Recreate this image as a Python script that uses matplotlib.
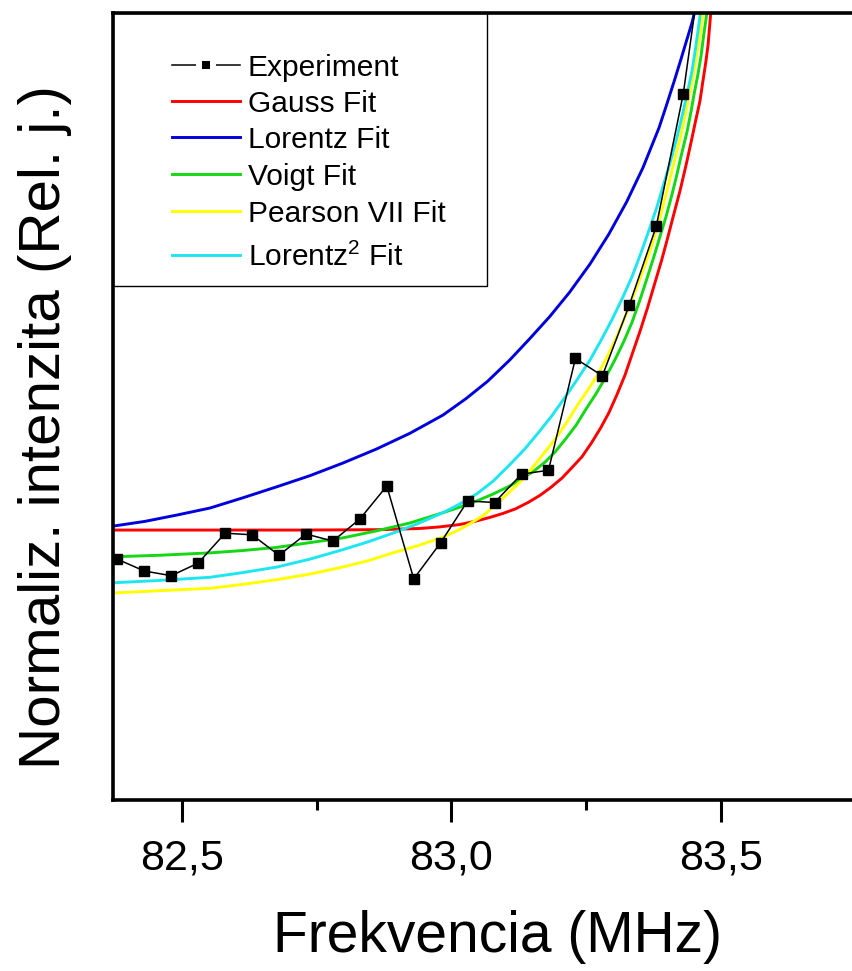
import matplotlib
matplotlib.use("Agg")
import matplotlib.pyplot as plt
from matplotlib.lines import Line2D
from matplotlib.patches import Rectangle
from matplotlib.ticker import FixedLocator, FuncFormatter

plt.rcParams['font.family'] = ['Liberation Sans', 'DejaVu Sans']
plt.rcParams['mathtext.fontset'] = 'custom'
plt.rcParams['mathtext.rm'] = 'Liberation Sans'
plt.rcParams['mathtext.it'] = 'Liberation Sans:italic'
plt.rcParams['mathtext.default'] = 'regular'

# ---- data ----
exp_x = [82.38, 82.43, 82.48, 82.53, 82.58, 82.63, 82.68, 82.73, 82.78, 82.83,
         82.88, 82.93, 82.98, 83.03, 83.08, 83.13, 83.18, 83.23, 83.28, 83.33,
         83.38, 83.43, 83.48]
exp_y = [0.306, 0.291, 0.285, 0.301, 0.339, 0.337, 0.311, 0.338, 0.329, 0.357,
         0.399, 0.281, 0.327, 0.380, 0.378, 0.414, 0.419, 0.561, 0.539, 0.629,
         0.729, 0.897, 1.142]

gauss_x = [82.372, 82.719, 82.867, 82.941, 82.978, 83.015, 83.043, 83.071, 83.095,
           83.119, 83.142, 83.164, 83.184, 83.205, 83.223, 83.242, 83.260, 83.277,
           83.292, 83.307, 83.322, 83.336, 83.351, 83.364, 83.377, 83.390, 83.401,
           83.412, 83.424, 83.435, 83.444, 83.453, 83.461, 83.466, 83.472, 83.476,
           83.479, 83.481, 83.483]
gauss_y = [0.343, 0.343, 0.3435, 0.345, 0.347, 0.350, 0.354, 0.359, 0.364,
           0.370, 0.378, 0.387, 0.397, 0.409, 0.422, 0.436, 0.454, 0.473,
           0.492, 0.515, 0.540, 0.568, 0.598, 0.626, 0.656, 0.686, 0.714,
           0.743, 0.774, 0.806, 0.834, 0.863, 0.888, 0.911, 0.938, 0.959,
           0.983, 1.000, 1.010]

lor_x = [82.372, 82.431, 82.490, 82.552, 82.613, 82.676, 82.737, 82.798, 82.861,
         82.923, 82.984, 83.027, 83.067, 83.108, 83.145, 83.182, 83.219, 83.257,
         83.292, 83.325, 83.355, 83.385, 83.399, 83.414, 83.427, 83.438, 83.446,
         83.451, 83.455]
lor_y = [0.348, 0.354, 0.362, 0.371, 0.384, 0.398, 0.412, 0.428, 0.446,
         0.466, 0.489, 0.510, 0.532, 0.559, 0.586, 0.614, 0.645, 0.681,
         0.719, 0.760, 0.803, 0.854, 0.883, 0.915, 0.944, 0.969, 0.987,
         1.001, 1.011]

voigt_x = [82.372, 82.459, 82.552, 82.613, 82.676, 82.737, 82.798, 82.861, 82.923,
           82.984, 83.015, 83.047, 83.078, 83.108, 83.130, 83.153, 83.173, 83.192,
           83.212, 83.231, 83.249, 83.268, 83.286, 83.303, 83.320, 83.335, 83.349,
           83.362, 83.375, 83.386, 83.398, 83.409, 83.418, 83.427, 83.437, 83.444,
           83.451, 83.457, 83.463, 83.468, 83.472, 83.474, 83.476]
voigt_y = [0.309, 0.311, 0.314, 0.317, 0.321, 0.327, 0.333, 0.342, 0.352,
           0.365, 0.372, 0.380, 0.389, 0.399, 0.408, 0.418, 0.429, 0.442,
           0.459, 0.476, 0.496, 0.516, 0.537, 0.559, 0.583, 0.607, 0.634,
           0.661, 0.689, 0.714, 0.741, 0.769, 0.794, 0.821, 0.849, 0.873,
           0.900, 0.921, 0.945, 0.972, 0.991, 1.001, 1.010]

pear_x = [82.372, 82.459, 82.552, 82.613, 82.676, 82.737, 82.798, 82.845, 82.891,
          82.937, 82.984, 83.010, 83.034, 83.058, 83.082, 83.104, 83.127, 83.149,
          83.171, 83.194, 83.214, 83.234, 83.253, 83.271, 83.288, 83.303, 83.318,
          83.331, 83.344, 83.357, 83.370, 83.381, 83.392, 83.403, 83.414, 83.424,
          83.433, 83.440, 83.448, 83.455, 83.461, 83.466, 83.468]
pear_y = [0.263, 0.266, 0.269, 0.274, 0.280, 0.287, 0.296, 0.304, 0.314,
          0.323, 0.334, 0.342, 0.351, 0.361, 0.375, 0.389, 0.404, 0.421,
          0.440, 0.460, 0.480, 0.502, 0.521, 0.540, 0.562, 0.583, 0.607,
          0.629, 0.652, 0.676, 0.701, 0.726, 0.753, 0.783, 0.813, 0.840,
          0.868, 0.892, 0.919, 0.948, 0.972, 0.999, 1.009]

lor2_x = [82.372, 82.459, 82.552, 82.613, 82.676, 82.737, 82.798, 82.845, 82.891,
          82.937, 82.984, 83.015, 83.047, 83.077, 83.108, 83.136, 83.164, 83.186,
          83.210, 83.234, 83.257, 83.279, 83.299, 83.318, 83.335, 83.351, 83.366,
          83.381, 83.394, 83.407, 83.418, 83.429, 83.438, 83.446, 83.453, 83.459,
          83.463]
lor2_y = [0.276, 0.279, 0.283, 0.289, 0.296, 0.306, 0.318, 0.328, 0.339,
          0.351, 0.365, 0.376, 0.389, 0.405, 0.426, 0.446, 0.469, 0.488,
          0.511, 0.535, 0.559, 0.586, 0.612, 0.639, 0.665, 0.694, 0.723,
          0.753, 0.783, 0.813, 0.841, 0.872, 0.900, 0.925, 0.956, 0.985,
          1.006]

major_ticks = [82.5, 83.0, 83.5]
minor_ticks = [82.75, 83.25, 83.75]

labels = ['Experiment', 'Gauss Fit', 'Lorentz Fit', 'Voigt Fit', 'Pearson VII Fit', r'Lorentz$^2$ Fit']
colors = ['black', '#FF0000', '#0000DD', '#14D814', '#FFFF00', '#1EE6F0']

# ---- figure ----
W, H = 853, 971
fig = plt.figure(figsize=(W / 100, H / 100), dpi=100)
ax_left, ax_bottom, ax_top = 113, 800, 13
axw = W - ax_left
axh = ax_bottom - ax_top
ax = fig.add_axes([ax_left / W, 1 - ax_bottom / H, axw / W, axh / H])

lw = 2.1
ax.plot(gauss_x, gauss_y, color=colors[1], lw=lw, zorder=2, solid_joinstyle='round')
ax.plot(lor_x, lor_y, color=colors[2], lw=lw, zorder=2, solid_joinstyle='round')
ax.plot(voigt_x, voigt_y, color=colors[3], lw=lw, zorder=2, solid_joinstyle='round')
ax.plot(pear_x, pear_y, color=colors[4], lw=lw, zorder=2, solid_joinstyle='round')
ax.plot(lor2_x, lor2_y, color=colors[5], lw=lw, zorder=2, solid_joinstyle='round')
ax.plot(exp_x, exp_y, color='black', lw=1.1, marker='s', markersize=6.5,
        markerfacecolor='black', markeredgecolor='black', zorder=3)

ax.set_xlim(82.372, 83.745)
ax.set_ylim(0, 1)

for s in ['left', 'bottom', 'top']:
    ax.spines[s].set_linewidth(2.6)
ax.spines['right'].set_visible(False)

ax.xaxis.set_major_locator(FixedLocator(major_ticks))
ax.xaxis.set_minor_locator(FixedLocator(minor_ticks))
ax.xaxis.set_major_formatter(FuncFormatter(lambda v, p: f"{v:.1f}".replace('.', ',')))
ax.tick_params(axis='x', which='major', direction='out', length=16, width=2.2,
               labelsize=31, pad=12)
ax.tick_params(axis='x', which='minor', direction='out', length=7.5, width=2.2)
ax.tick_params(axis='y', which='both', left=False, labelleft=False)

fig.text(498 / W, 1 - 937 / H, 'Frekvencia (MHz)', fontsize=41, ha='center', va='center')
fig.text(45 / W, 1 - 427 / H, 'Normaliz. intenzita (Rel. j.)', fontsize=42,
         ha='center', va='center', rotation=90)

# ---- legend (drawn by hand, in axes-fraction coordinates) ----
def fx(px):
    return (px - ax_left) / axw

def fy(py):
    return (ax_bottom - py) / axh

ax.add_patch(Rectangle((0, fy(286)), fx(487), fy(13) - fy(286),
                       transform=ax.transAxes, fill=False, edgecolor='black', lw=1.0,
                       zorder=4, clip_on=False))

row_py = [65, 101, 137, 174, 211, 255]
h0, h1, tx = 172, 240, 248
for i, (lab, c) in enumerate(zip(labels, colors)):
    yy = fy(row_py[i])
    if i == 0:
        ax.add_line(Line2D([fx(h0), fx(h1)], [yy, yy], transform=ax.transAxes, color='black',
                           lw=1.1, zorder=5, clip_on=False))
        ax.add_line(Line2D([fx((h0 + h1) / 2)], [yy], transform=ax.transAxes, marker='s',
                           markersize=9.4, markerfacecolor='black', markeredgecolor='white',
                           markeredgewidth=4.3, lw=0, zorder=6, clip_on=False))
    else:
        ax.add_line(Line2D([fx(h0), fx(h1)], [yy, yy], transform=ax.transAxes, color=c,
                           lw=lw, zorder=5, clip_on=False))
    ax.text(fx(tx), fy(row_py[i] + 10.7), lab, transform=ax.transAxes, fontsize=21.5,
            ha='left', va='baseline', zorder=6)

fig.savefig('out.png', dpi=100)
